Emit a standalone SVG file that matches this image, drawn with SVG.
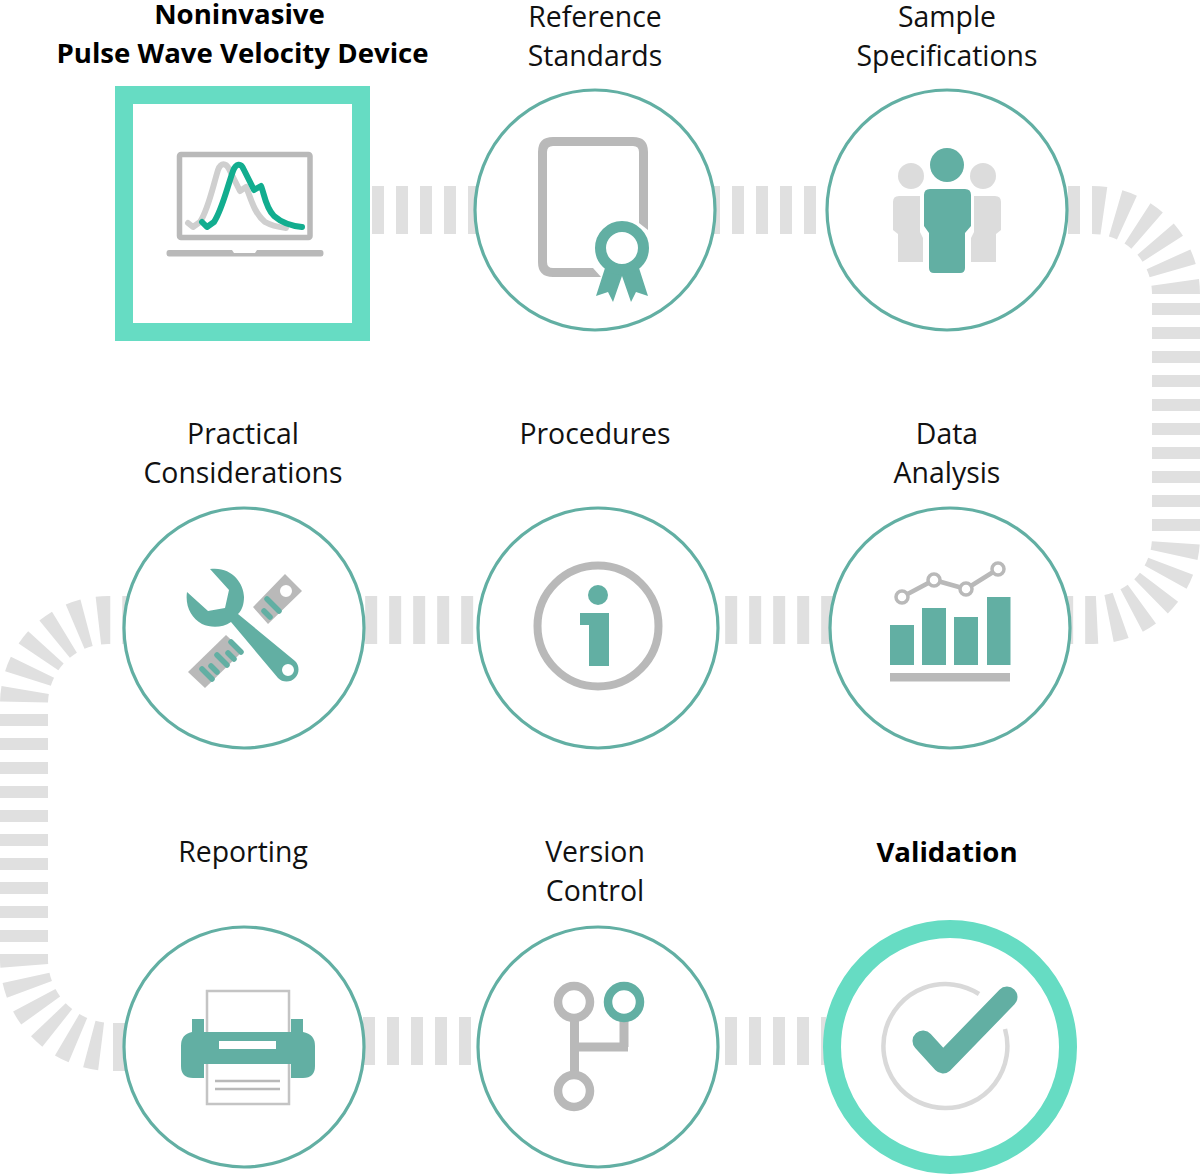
<svg xmlns="http://www.w3.org/2000/svg" width="1200" height="1175" viewBox="0 0 1200 1175">
<style>
text{font-family:"Open Sans","Noto Sans","Liberation Sans",sans-serif;font-size:28.400px;fill:#111;text-anchor:middle}
.b{font-weight:700;fill:#000;font-size:27.600px}
.ring{fill:#fff;stroke:#62afa3;stroke-width:3.200}
.hi{fill:#fff;stroke:#66dcc3;stroke-width:18}
.t{fill:#62afa3}
.g{fill:#b9b9b9}
.l{fill:#dcdcdc}
.sg{fill:none;stroke:#b9b9b9}
</style>
<rect width="1200" height="1175" fill="#fff"/>
<g id="connectors" fill="none" stroke="#e0e0e0" stroke-width="48" stroke-dasharray="12 12">
<path d="M372 210H1092A84 84 0 0 1 1176 294"/>
<path d="M1176 303V537A83 83 0 0 1 1093 620H363"/>
<path d="M125 1047H112A88 88 0 0 1 24 959V704A84 84 0 0 1 108 620H132"/>
<path d="M363 1041H476"/>
<path d="M725 1041H826"/>
</g>
<g id="node-device">
<rect class="hi" x="124" y="95" width="237" height="237"/>
<text class="b" x="239.500" y="24">Noninvasive</text>
<text class="b" x="242.500" y="63">Pulse Wave Velocity Device</text>
<rect x="179.500" y="154.500" width="130.500" height="83" rx="1.500" fill="none" stroke="#b9b9b9" stroke-width="5.500"/>
<path class="g" d="M169 250H232L234 253H255L257 250H321Q323.500 250 323.500 253.200Q323.500 256.500 321 256.500H169Q166.500 256.500 166.500 253.200Q166.500 250 169 250Z"/>
<path fill="none" stroke="#cfcfcf" stroke-width="6" stroke-linecap="round" stroke-linejoin="round" d="M188 223L193 227L200 222C208 210 212 190 218 170C221 162 226 163 229 169L240 191L246 187C250 195 253 212 265 222C272 226 278 227 286 228"/>
<path fill="none" stroke="#12ad8f" stroke-width="6" stroke-linecap="round" stroke-linejoin="round" d="M202 222L207 227L214 222C222 210 227 188 233 171C236 163 241 163 243.500 169L254 190L261 186C264 192 265 207 274 216C282 223 292 226 302 227"/>
</g>
<g id="node-reference">
<circle class="ring" cx="595" cy="210" r="120"/>
<text x="595" y="27">Reference</text>
<text x="595" y="66">Standards</text>
<path class="g" d="M553 137H633Q648 137 648 152V230L639 223V152Q639 146 633 146H553Q547 146 547 152V262Q547 268 553 268H593L601 277H553Q538 277 538 262V152Q538 137 553 137Z"/>
<path class="t" d="M605 268L596 296L608 292L613 302L622 276L631 302L636 292L648 296L639 268Z"/>
<circle cx="622" cy="248" r="21.500" fill="#fff" stroke="#62afa3" stroke-width="11"/>
</g>
<g id="node-sample">
<circle class="ring" cx="947" cy="210" r="120"/>
<text x="947" y="27">Sample</text>
<text x="947" y="66">Specifications</text>
<circle class="l" cx="911" cy="176" r="13"/>
<circle class="l" cx="983" cy="176" r="13"/>
<path class="l" d="M899 196H920V232L923 238V262H898V234L893 230V202Q893 196 899 196Z"/>
<path class="l" d="M974 196H995Q1001 196 1001 202V230L996 234V262H971V238L974 232Z"/>
<circle class="t" cx="947" cy="165" r="17"/>
<path class="t" d="M930 189H965Q971 189 971 195V226L965 233V268Q965 273 960 273H934Q929 273 929 268V233L924 226V195Q924 189 930 189Z"/>
</g>
<g id="node-practical">
<circle class="ring" cx="244" cy="628" r="120"/>
<text x="243" y="444">Practical</text>
<text x="243" y="483">Considerations</text>
<path class="g" d="M188 672L226 635L243 651L205 688Z"/>
<path class="g" fill-rule="evenodd" d="M253 607L285 574L302 591L268 624Z M292 591a6 6 0 1 0 -12 0a6 6 0 1 0 12 0Z"/>
<g stroke="#62afa3" stroke-width="5.500" stroke-linecap="round">
<path d="M202 669L212 679M211 666L217 672M217 655L227 665M228 653L234 659M231 642L241 652"/>
<path d="M267 599L279 611M264 611L270 617"/>
</g>
<path class="t" fill-rule="evenodd" d="M210 569C231 566 244 583 244 597C244 604 242 610 238 614L295 661A12 12 0 1 1 278 678L231 622C222 628 211 628 202 624C191 618 185 606 187 592L208 611L225 608L229 590Z M294 670a6 6 0 1 0 -12 0a6 6 0 1 0 12 0Z"/>
</g>
<g id="node-procedures">
<circle class="ring" cx="598" cy="628" r="120"/>
<text x="595" y="444">Procedures</text>
<circle cx="598" cy="626" r="60.500" fill="none" stroke="#b9b9b9" stroke-width="8"/>
<circle class="t" cx="598" cy="595" r="10"/>
<path class="t" d="M580 613H609V666H589V625H580Z"/>
</g>
<g id="node-data">
<circle class="ring" cx="950" cy="628" r="120"/>
<text x="947" y="444">Data</text>
<text x="947" y="483">Analysis</text>
<rect class="t" x="890" y="625" width="24" height="40"/>
<rect class="t" x="922" y="608" width="24" height="57"/>
<rect class="t" x="954" y="617" width="24" height="48"/>
<rect class="t" x="987" y="597" width="23.500" height="68"/>
<rect class="g" x="890" y="673" width="120" height="8.500"/>
<path class="sg" stroke-width="4.500" d="M902 597L934 580L966 589L998 569"/>
<g fill="#fff" stroke="#b9b9b9" stroke-width="3.500">
<circle cx="902" cy="597" r="6"/><circle cx="934" cy="580" r="6"/><circle cx="966" cy="589" r="6"/><circle cx="998" cy="569" r="6"/>
</g>
</g>
<g id="node-reporting">
<circle class="ring" cx="244" cy="1047" r="120"/>
<text x="243" y="862">Reporting</text>
<rect x="207" y="991" width="82" height="45" fill="#fff" stroke="#c4c4c4" stroke-width="2.500"/>
<path class="t" d="M192 1019H204V1032H291V1019H303V1032Q315 1034 315 1046V1066Q315 1078 303 1078H193Q181 1078 181 1066V1046Q181 1034 192 1032Z"/>
<rect x="204" y="1064" width="87" height="42" fill="#fff"/>
<path fill="none" stroke="#c4c4c4" stroke-width="2.500" d="M207 1064V1104H289V1064"/>
<rect x="219" y="1041" width="57" height="8" fill="#fff"/>
<path class="sg" stroke-width="2.500" d="M215 1081H280M215 1089H280"/>
</g>
<g id="node-version">
<circle class="ring" cx="598" cy="1047" r="120"/>
<text x="595" y="862">Version</text>
<text x="595" y="901">Control</text>
<path class="sg" stroke-width="9" d="M574.500 1018V1075M574.500 1047H628M624 1018V1047"/>
<circle cx="574" cy="1002" r="16" fill="none" stroke="#b9b9b9" stroke-width="8.500"/>
<circle cx="574" cy="1091" r="16" fill="none" stroke="#b9b9b9" stroke-width="8.500"/>
<circle cx="624" cy="1002" r="16" fill="none" stroke="#62afa3" stroke-width="8.500"/>
</g>
<g id="node-validation">
<circle class="hi" cx="950" cy="1047" r="118"/>
<text class="b" x="947" y="862">Validation</text>
<path fill="none" stroke="#d9d9d9" stroke-width="4.500" d="M979 994A62 62 0 1 0 1005 1029"/>
<path fill="none" stroke="#62afa3" stroke-width="21" stroke-linecap="round" stroke-linejoin="round" d="M923 1041L943 1063L1007 997"/>
</g>
</svg>
